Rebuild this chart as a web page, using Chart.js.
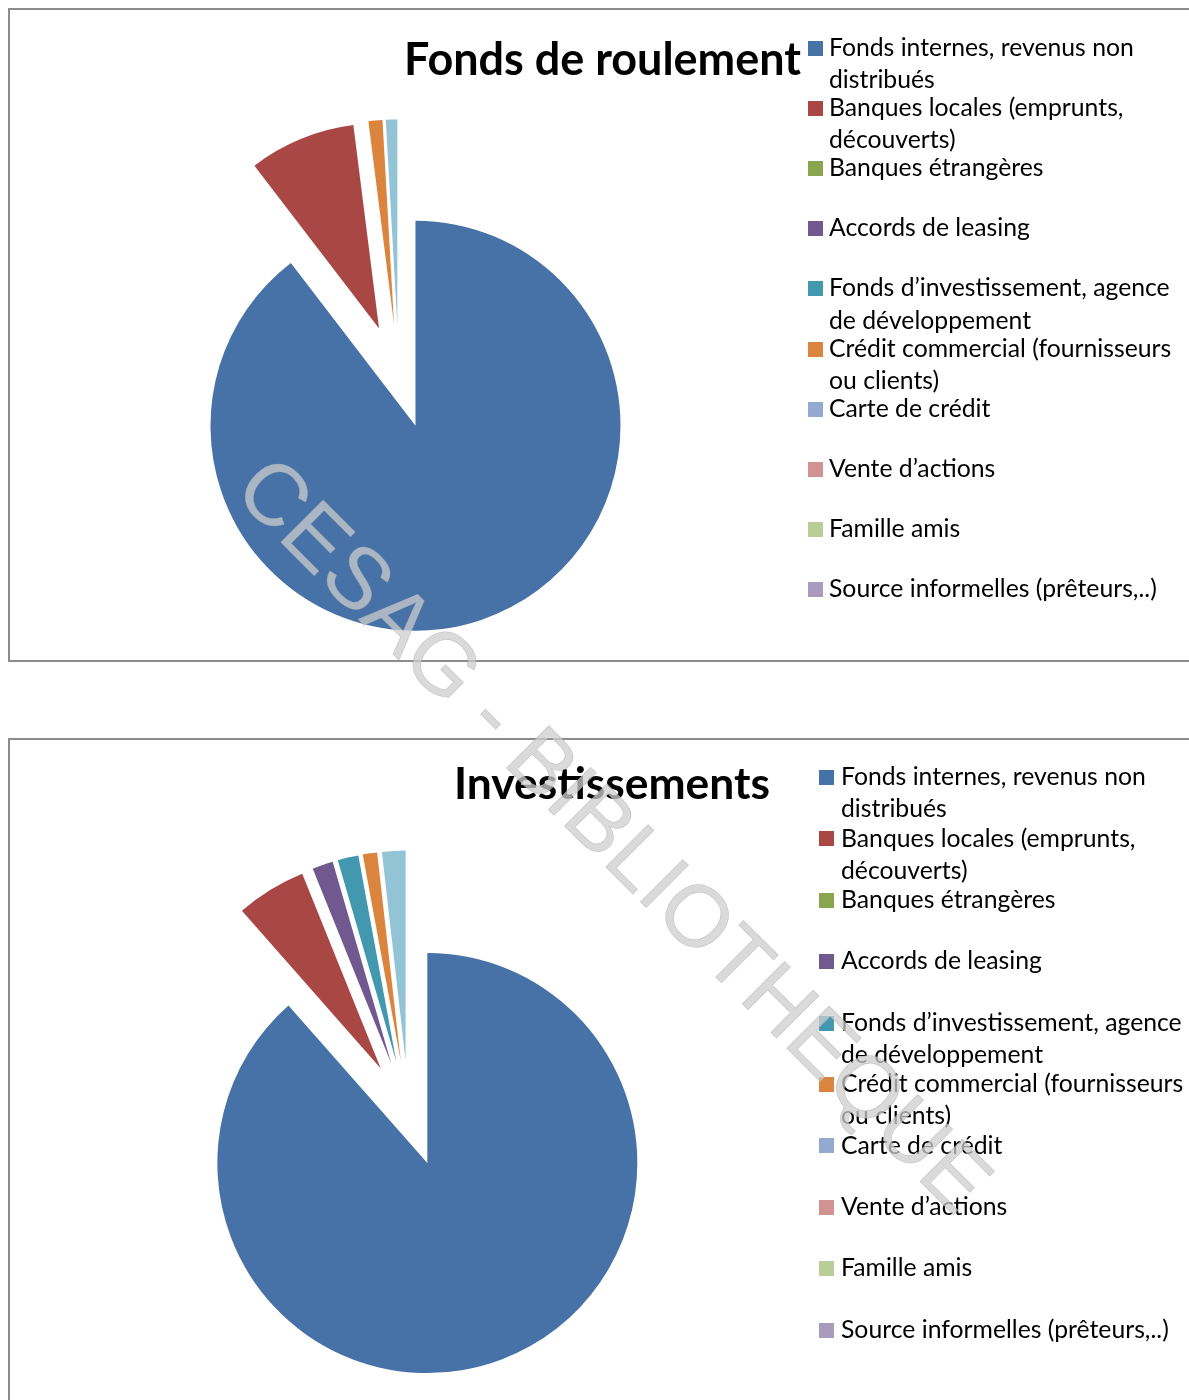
<!DOCTYPE html>
<html>
<head>
<meta charset="utf-8">
<title>Fonds de roulement - Investissements</title>
<script src="https://cdn.jsdelivr.net/npm/chart.js"></script>
<style>
  html, body { margin: 0; padding: 0; background: #fff; }
  body { position: relative; width: 1189px; height: 1400px; overflow: hidden; font-family: Lato, 'Open Sans', sans-serif; color: #000; }
  .frame { position: absolute; left: 8px; width: 1220px; border: 2px solid #8c8c8c; box-sizing: border-box; }
  canvas { position: absolute; }
  .title { position: absolute; font-weight: bold; white-space: nowrap; }
  .lg-box { position: absolute; }
  .lg-text { position: absolute; white-space: nowrap; }
  #watermark { position: absolute; left: 615px; top: 834px; transform: translate(-50%, -50%) rotate(45deg);
    font-family: 'Liberation Sans', Arial, sans-serif; font-size: 87px; white-space: nowrap;
    color: rgba(205, 205, 205, 0.75); -webkit-text-stroke: 0.6px rgba(170, 170, 170, 0.6); pointer-events: none; }
</style>
</head>
<body>

<script>
// legend categories (line breaks as in the original legend)
var categories = [
  ['Fonds internes, revenus non', 'distribués'],
  ['Banques locales (emprunts,', 'découverts)'],
  ['Banques étrangères'],
  ['Accords de leasing'],
  ['Fonds d’investissement, agence', 'de développement'],
  ['Crédit commercial (fournisseurs', 'ou clients)'],
  ['Carte de crédit'],
  ['Vente d’actions'],
  ['Famille amis'],
  ['Source informelles (prêteurs,..)']
];

// shares in %
var fondsRoulement  = [89.6, 8.4, 0, 0, 0, 1.1, 0.9, 0, 0, 0];
var investissements = [88.5, 5.4, 0, 1.6, 1.6, 1.1, 1.8, 0, 0, 0];

var titles = ['Fonds de roulement', 'Investissements'];

var sliceColors  = ['#4672A8', '#A94744', '#89A54E', '#71588F', '#4298AF', '#DB843D', '#93C4D5', '#D19392', '#B9CD96', '#A99BBD'];
var legendColors = ['#4572A7', '#AA4643', '#89A54E', '#71588F', '#4198AF', '#DB843D', '#93A9CF', '#D19392', '#B9CD96', '#A99BBD'];

var panels = [
  { data: fondsRoulement, title: titles[0], top: 8, height: 654,
    cx: 398.8, cy: 376.5, radius: 205, explode: 52,
    titleX: 602.5, titleBase: 75, titleWidth: 397,
    boxX: 808, textX: 829, firstBase: 56.5, step: 60.2, lineGap: 32.6 },
  { data: investissements, title: titles[1], top: 738, height: 720,
    cx: 408.6, cy: 1113.5, radius: 210, explode: 53,
    titleX: 612, titleBase: 800, titleWidth: 316,
    boxX: 819, textX: 841, firstBase: 786, step: 61.4, lineGap: 32.3 }
];

var titleFont = 'Lato, "Open Sans", sans-serif';
var measureCtx = document.createElement('canvas').getContext('2d');

function fitSize(text, weight, target) {
  measureCtx.font = weight + ' 100px ' + titleFont;
  return 100 * target / measureCtx.measureText(text).width;
}

// top of a line box (line-height = size) whose baseline lands on y
function topForBaseline(y, size, weight) {
  measureCtx.font = weight + ' ' + size + 'px ' + titleFont;
  var m = measureCtx.measureText('Hg');
  var a = m.fontBoundingBoxAscent, d = m.fontBoundingBoxDescent;
  return y - ((size - (a + d)) / 2 + a);
}

function addText(txt, x, baseline, size, weight, cls, align) {
  var el = document.createElement('div');
  el.className = cls;
  el.textContent = txt;
  el.style.fontSize = size + 'px';
  el.style.lineHeight = size + 'px';
  el.style.fontWeight = weight;
  el.style.top = topForBaseline(baseline, size, weight) + 'px';
  document.body.appendChild(el);
  if (align === 'center') {
    el.style.left = (x - el.offsetWidth / 2) + 'px';
  } else {
    el.style.left = x + 'px';
  }
  return el;
}

// pushes every slice outward along its middle angle (Excel style exploded pie)
var explodePlugin = {
  id: 'explode',
  afterDatasetUpdate: function(chart, args, opts) {
    args.meta.data.forEach(function(arc) {
      var mid = (arc.startAngle + arc.endAngle) / 2;
      arc.x += opts.distance * Math.cos(mid);
      arc.y += opts.distance * Math.sin(mid);
    });
  }
};

var legendSize = fitSize(categories[0][0], 'normal', 305);

panels.forEach(function(p, idx) {
  var frame = document.createElement('div');
  frame.className = 'frame';
  frame.style.top = p.top + 'px';
  frame.style.height = p.height + 'px';
  document.body.appendChild(frame);

  var W = 1180, H = Math.min(p.height - 4, 1400 - p.top - 2);
  var canvas = document.createElement('canvas');
  canvas.width = W; canvas.height = H;
  canvas.style.left = '10px';
  canvas.style.top = (p.top + 2) + 'px';
  document.body.appendChild(canvas);

  var cx = p.cx - 10, cy = p.cy - (p.top + 2);
  new Chart(canvas.getContext('2d'), {
    type: 'pie',
    data: {
      labels: categories,
      datasets: [{
        data: p.data,
        backgroundColor: sliceColors,
        borderWidth: 0,
        hoverOffset: 0
      }]
    },
    options: {
      responsive: false,
      animation: false,
      devicePixelRatio: 1,
      events: [],
      radius: p.radius,
      layout: {
        padding: {
          left: 0,
          right: W - 2 * cx,
          top: Math.max(0, 2 * cy - H),
          bottom: Math.max(0, H - 2 * cy)
        }
      },
      plugins: {
        legend: { display: false },
        title: { display: false },
        tooltip: { enabled: false },
        explode: { distance: p.explode }
      }
    },
    plugins: [explodePlugin]
  });

  var tSize = fitSize(p.title, 'bold', p.titleWidth);
  addText(p.title, p.titleX, p.titleBase, tSize, 'bold', 'title', 'center');

  categories.forEach(function(lines, i) {
    var base = p.firstBase + i * p.step;
    var box = document.createElement('div');
    box.className = 'lg-box';
    box.style.left = p.boxX + 'px';
    box.style.top = (base - 16) + 'px';
    box.style.width = '15px';
    box.style.height = '15px';
    box.style.background = legendColors[i];
    document.body.appendChild(box);
    lines.forEach(function(line, j) {
      addText(line, p.textX, base + j * p.lineGap, legendSize, 'normal', 'lg-text');
    });
  });
});

var wm = document.createElement('div');
wm.id = 'watermark';
wm.textContent = 'CESAG - BIBLIOTHEQUE';
document.body.appendChild(wm);
</script>
</body>
</html>
